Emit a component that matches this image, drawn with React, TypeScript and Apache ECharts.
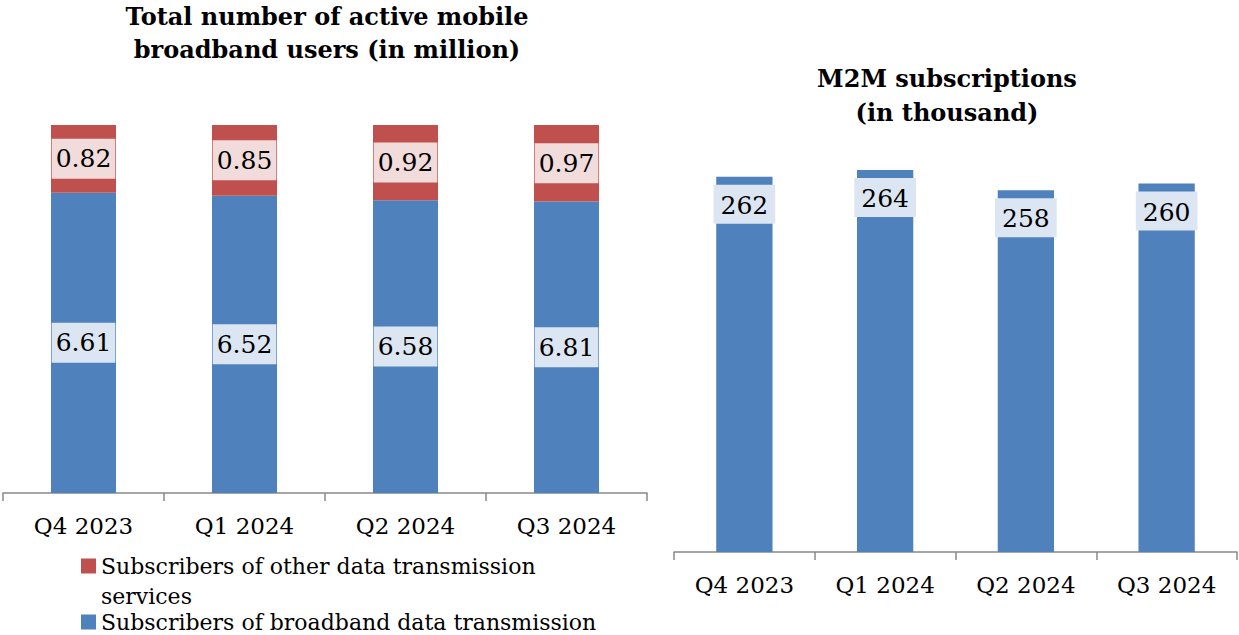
import React, { useEffect, useRef } from "react";
import * as echarts from "echarts";

const categories = ["Q4 2023", "Q1 2024", "Q2 2024", "Q3 2024"];
const broadbandUsers = [6.61, 6.52, 6.58, 6.81];
const otherDataUsers = [0.82, 0.85, 0.92, 0.97];
const m2mSubscriptions = [262, 264, 258, 260];

const nameOther = "Subscribers of other data transmission services";
const nameBroadband = "Subscribers of broadband data transmission";

const FONT = "DejaVu Serif";
const BLUE = "#4f81bd";
const RED = "#c0504d";
const AXIS = "#898989";

export default function App() {
  const ref = useRef<HTMLDivElement>(null);

  useEffect(() => {
    document.body.style.margin = "0";
    if (!ref.current) return;
    const chart = echarts.init(ref.current, null, { renderer: "svg" });

    const totals = broadbandUsers.map((b, i) => b + otherDataUsers[i]);
    const blueShare = broadbandUsers.map((b, i) => b / totals[i]);
    const redShare = otherDataUsers.map((o, i) => o / totals[i]);

    const axisCommon = {
      type: "category" as const,
      data: categories,
      boundaryGap: true,
      axisLine: { show: true, lineStyle: { color: AXIS, width: 1.5 } },
      axisTick: { show: true, length: 8, lineStyle: { color: AXIS, width: 1.5 } },
      axisLabel: { color: "#000", fontSize: 23, fontFamily: FONT, margin: 21 },
    };

    const labelCommon = {
      show: true,
      color: "#000",
      fontSize: 25,
      fontFamily: FONT,
      padding: [9, 4, 6, 4],
    };

    chart.setOption({
      animation: false,
      title: [
        {
          text: "Total number of active mobile\nbroadband users (in million)",
          left: 327,
          top: 0,
          padding: 0,
          textAlign: "center",
          textStyle: { fontFamily: FONT, fontWeight: "bold", fontSize: 24, lineHeight: 33, color: "#000" },
        },
        {
          text: "M2M subscriptions\n(in thousand)",
          left: 947,
          top: 61,
          padding: 0,
          textAlign: "center",
          textStyle: { fontFamily: FONT, fontWeight: "bold", fontSize: 24, lineHeight: 34, color: "#000" },
        },
      ],
      legend: [
        {
          data: [nameOther],
          orient: "vertical",
          left: 81,
          top: 551,
          padding: 0,
          icon: "path://M0,0H10V10H0Z M0,30L0.001,30Z",
          itemWidth: 15,
          itemHeight: 45,
          formatter: () => "Subscribers of other data transmission\nservices",
          textStyle: { fontSize: 22, fontFamily: FONT, color: "#000", lineHeight: 30 },
          selectedMode: false,
        },
        {
          data: [nameBroadband],
          orient: "vertical",
          left: 81,
          top: 611,
          padding: 0,
          icon: "rect",
          itemWidth: 15,
          itemHeight: 15,
          textStyle: { fontSize: 22, fontFamily: FONT, color: "#000" },
          selectedMode: false,
        },
      ],
      grid: [
        { left: 3, top: 125, width: 644, height: 368 },
        { left: 674, top: 49.5, width: 563, height: 502.5 },
      ],
      xAxis: [
        { ...axisCommon, gridIndex: 0 },
        { ...axisCommon, gridIndex: 1 },
      ],
      yAxis: [
        { type: "value", gridIndex: 0, min: 0.4, max: 1, show: false, splitLine: { show: false } },
        { type: "value", gridIndex: 1, min: 150, max: 300, show: false, splitLine: { show: false } },
      ],
      series: [
        {
          name: nameBroadband,
          type: "bar",
          xAxisIndex: 0,
          yAxisIndex: 0,
          stack: "users",
          barWidth: "40.4%",
          itemStyle: { color: BLUE },
          data: blueShare,
          label: {
            ...labelCommon,
            position: "inside",
            backgroundColor: "#dce6f2",
            formatter: (p: any) => broadbandUsers[p.dataIndex].toFixed(2),
          },
        },
        {
          name: nameOther,
          type: "bar",
          xAxisIndex: 0,
          yAxisIndex: 0,
          stack: "users",
          barWidth: "40.4%",
          itemStyle: { color: RED },
          data: redShare,
          label: {
            ...labelCommon,
            position: "inside",
            backgroundColor: "#f2dcdb",
            formatter: (p: any) => otherDataUsers[p.dataIndex].toFixed(2),
          },
        },
        {
          name: "M2M subscriptions",
          type: "bar",
          xAxisIndex: 1,
          yAxisIndex: 1,
          barWidth: "40%",
          itemStyle: { color: BLUE },
          data: m2mSubscriptions,
          label: {
            ...labelCommon,
            position: "insideTop",
            distance: 8,
            padding: [8, 7, 6, 7],
            backgroundColor: "#dce6f2",
            formatter: (p: any) => String(m2mSubscriptions[p.dataIndex]),
          },
        },
      ],
    });

    return () => chart.dispose();
  }, []);

  return <div ref={ref} style={{ width: 1239, height: 635 }} />;
}
